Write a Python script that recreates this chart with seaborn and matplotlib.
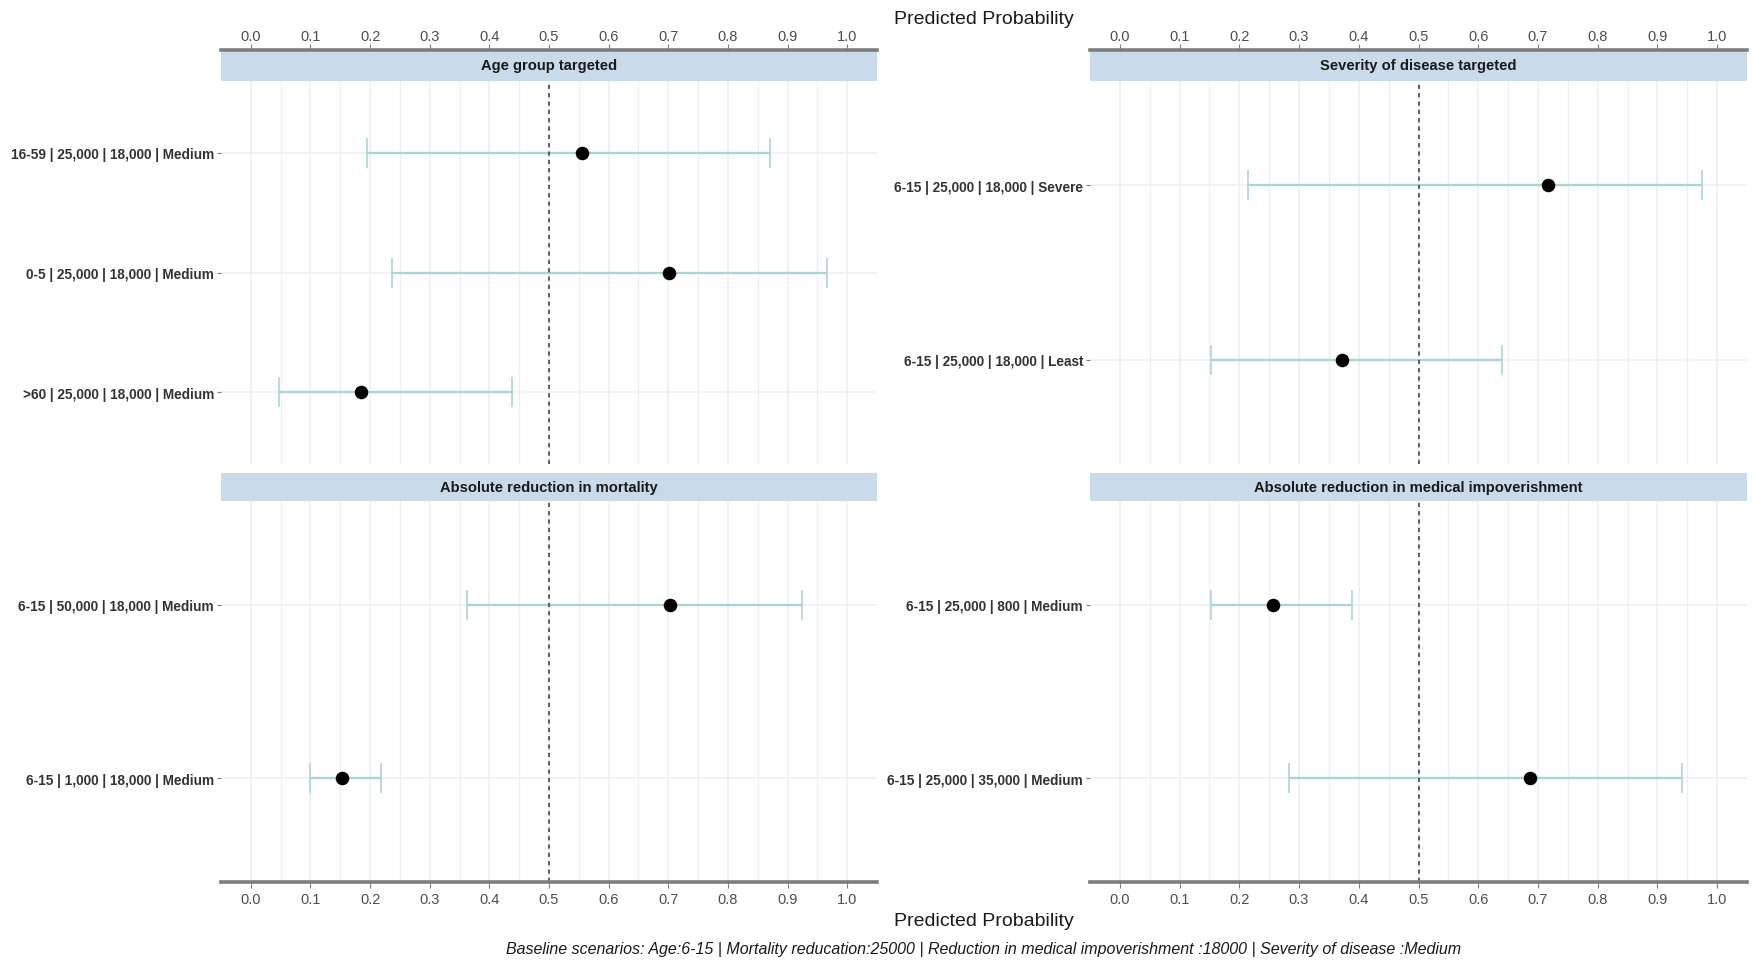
import matplotlib
matplotlib.use("Agg")
import matplotlib.pyplot as plt
import seaborn as sns
import pandas as pd
import numpy as np

# ---------------- data ----------------
panel_titles = ["Age group targeted", "Severity of disease targeted",
                "Absolute reduction in mortality", "Absolute reduction in medical impoverishment"]

age_labels = ["16-59 | 25,000 | 18,000 | Medium", "0-5 | 25,000 | 18,000 | Medium", ">60 | 25,000 | 18,000 | Medium"]
age_est = [0.555, 0.702, 0.185]
age_low = [0.195, 0.237, 0.048]
age_high = [0.871, 0.966, 0.438]

sev_labels = ["6-15 | 25,000 | 18,000 | Severe", "6-15 | 25,000 | 18,000 | Least"]
sev_est = [0.717, 0.372]
sev_low = [0.215, 0.153]
sev_high = [0.975, 0.640]

mort_labels = ["6-15 | 50,000 | 18,000 | Medium", "6-15 | 1,000 | 18,000 | Medium"]
mort_est = [0.703, 0.153]
mort_low = [0.362, 0.099]
mort_high = [0.925, 0.218]

imp_labels = ["6-15 | 25,000 | 800 | Medium", "6-15 | 25,000 | 35,000 | Medium"]
imp_est = [0.257, 0.687]
imp_low = [0.153, 0.284]
imp_high = [0.388, 0.942]

x_ticks = [0.0, 0.1, 0.2, 0.3, 0.4, 0.5, 0.6, 0.7, 0.8, 0.9, 1.0]
reference_line = 0.5
x_title = "Predicted Probability"
caption = ("Baseline scenarios: Age:6-15 | Mortality reducation:25000 | "
           "Reduction in medical impoverishment :18000 | Severity of disease :Medium")

frames = []
for title, labs, est, lo, hi in [
        (panel_titles[0], age_labels, age_est, age_low, age_high),
        (panel_titles[1], sev_labels, sev_est, sev_low, sev_high),
        (panel_titles[2], mort_labels, mort_est, mort_low, mort_high),
        (panel_titles[3], imp_labels, imp_est, imp_low, imp_high)]:
    frames.append(pd.DataFrame({"panel": title, "label": labs, "est": est, "low": lo, "high": hi}))
df = pd.concat(frames, ignore_index=True)

# ---------------- style ----------------
sns.set_theme(style="white")
FONT = ["Liberation Sans Narrow", "Liberation Sans", "DejaVu Sans"]
plt.rcParams["font.family"] = FONT

W, H = 1752, 962
fig = plt.figure(figsize=(W / 100, H / 100), dpi=100)
fig.patch.set_facecolor("white")

def fx(px):
    return px / W

def fy(px):
    return 1 - px / H

left_x = (221, 877)
right_x = (1090, 1747)
top_strip = (51, 82)
top_panel = (82, 465)
bot_strip = (474, 502)
bot_panel = (502, 883)

xlim = (-0.05, 1.05)
ERR_COLOR = "#abd4d7"
GRID = "#efefef"
AXLINE = "#7d7d7d"
TICKLAB = "#4d4d4d"
STRIP = "#c9dbea"

def make_axes(xr, yr):
    return fig.add_axes([fx(xr[0]), fy(yr[1]), fx(xr[1] - xr[0]), (yr[1] - yr[0]) / H])

layout = [
    (panel_titles[0], left_x, top_strip, top_panel, "top"),
    (panel_titles[1], right_x, top_strip, top_panel, "top"),
    (panel_titles[2], left_x, bot_strip, bot_panel, "bottom"),
    (panel_titles[3], right_x, bot_strip, bot_panel, "bottom"),
]

for title, xr, sr, pr, axis_side in layout:
    sub = df[df["panel"] == title]
    n = len(sub)
    ax = make_axes(xr, pr)
    sax = make_axes(xr, sr)

    # grid lines
    ax.set_xlim(*xlim)
    ax.set_xticks(x_ticks)
    ax.set_xticks(np.arange(0.05, 1.0, 0.1), minor=True)
    ax.grid(True, which="major", axis="both", color=GRID, linewidth=1.1)
    ax.grid(True, which="minor", axis="x", color=GRID, linewidth=0.9)
    ax.set_axisbelow(True)

    # error bars + points
    ax.errorbar(sub["est"], sub["label"],
                xerr=[sub["est"] - sub["low"], sub["high"] - sub["est"]],
                fmt="none", ecolor=ERR_COLOR, elinewidth=1.7, capsize=10.5, capthick=1.2, zorder=2)
    sns.scatterplot(data=sub, x="est", y="label", ax=ax, color="black", s=95,
                    edgecolor="black", linewidth=0, zorder=3, legend=False)
    ax.axvline(reference_line, color="#444444", linestyle=(0, (2.5, 2.5)), linewidth=1.2, zorder=2.5)

    ax.set_ylim(n - 1 + 0.6, -0.6)
    ax.set_xlim(*xlim)
    ax.set_xlabel("")
    ax.set_ylabel("")
    for sp in ax.spines.values():
        sp.set_visible(False)
    ax.tick_params(axis="y", which="both", length=3, width=0.8, color="#7f7f7f", pad=2,
                   labelsize=9.8, labelcolor="#333333", left=True)
    for t in ax.get_yticklabels():
        t.set_fontweight("bold")
        t.set_family(FONT)

    # strip
    sax.set_facecolor(STRIP)
    sax.set_xlim(*xlim)
    sax.set_yticks([])
    sax.text(0.5, 0.5, title, transform=sax.transAxes, ha="center", va="center",
             fontsize=10.6, fontweight="bold", color="#1a1a1a", family=FONT)
    for sp in sax.spines.values():
        sp.set_visible(False)

    if axis_side == "top":
        ax.tick_params(axis="x", which="both", bottom=False, top=False, labelbottom=False, labeltop=False)
        sax.set_xticks(x_ticks)
        sax.set_xticklabels([f"{v:.1f}" for v in x_ticks])
        sax.xaxis.set_ticks_position("top")
        sax.tick_params(axis="x", which="major", top=True, bottom=False, labeltop=True, labelbottom=False,
                        length=4, width=0.8, color="#7f7f7f", labelsize=10.5, labelcolor=TICKLAB, pad=1)
        sax.spines["top"].set_visible(True)
        sax.spines["top"].set_color(AXLINE)
        sax.spines["top"].set_linewidth(2.6)
    else:
        sax.set_xticks([])
        ax.set_xticklabels([f"{v:.1f}" for v in x_ticks])
        ax.tick_params(axis="x", which="major", bottom=True, top=False, labelbottom=True,
                       length=4, width=0.8, color="#7f7f7f", labelsize=10.5, labelcolor=TICKLAB, pad=3)
        ax.tick_params(axis="x", which="minor", bottom=False)
        ax.spines["bottom"].set_visible(True)
        ax.spines["bottom"].set_color(AXLINE)
        ax.spines["bottom"].set_linewidth(2.6)

center_x = fx((left_x[0] + right_x[1]) / 2)
fig.text(center_x, fy(20), x_title, ha="center", va="center", fontsize=14, color="#1a1a1a",
         family=["Liberation Sans", "DejaVu Sans"])
fig.text(center_x, fy(922), x_title, ha="center", va="center", fontsize=14, color="#1a1a1a",
         family=["Liberation Sans", "DejaVu Sans"])
fig.text(center_x, fy(950), caption, ha="center", va="center", fontsize=11.5, style="italic",
         color="#1a1a1a", family=FONT)

fig.savefig("out.png", dpi=100, facecolor="white")
